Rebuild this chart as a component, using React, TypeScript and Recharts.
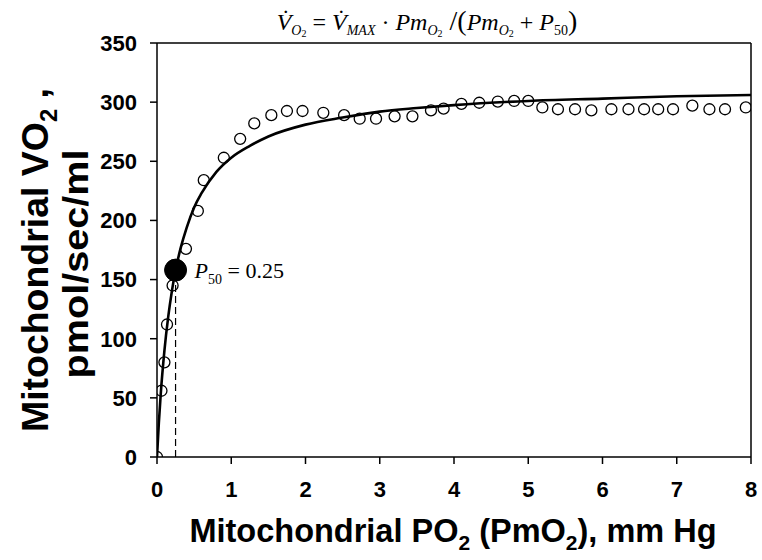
import React from 'react';
import {
  ComposedChart, Line, Scatter, XAxis, YAxis, ReferenceLine, ReferenceDot,
} from 'recharts';

// Observed mitochondrial PO2 (mm Hg) and VO2 (pmol/sec/ml)
const obsPO2 = [0, 0.06, 0.1, 0.135, 0.21, 0.39, 0.55, 0.63, 0.9, 1.12, 1.31, 1.54, 1.75, 1.96, 2.24, 2.52, 2.73, 2.95, 3.2, 3.44, 3.69, 3.86, 4.1, 4.34, 4.59, 4.81, 5.0, 5.19, 5.4, 5.63, 5.85, 6.12, 6.35, 6.56, 6.75, 6.95, 7.21, 7.44, 7.65, 7.93];
const obsVO2 = [0, 56, 80, 112, 145, 176, 208, 234, 253, 269, 282, 289, 292.5, 292.5, 291, 289, 286, 286, 288, 288, 293, 294.5, 298.5, 299.5, 300.5, 301, 301, 295.5, 294, 294, 293, 294, 294, 294, 294, 294, 297, 294, 294, 295.5];

// Fitted curve
const fitPO2 = [0, 0.025, 0.05, 0.1, 0.15, 0.2, 0.25, 0.32, 0.4, 0.5, 0.6, 0.8, 1, 1.25, 1.5, 2, 2.5, 3, 3.5, 4, 5, 6, 7, 8];
const fitVO2 = [0, 29, 53, 90, 118, 140, 158, 177, 194, 211, 223, 241, 253, 263, 271, 281, 287, 292, 295, 297.5, 301, 303, 305, 306];

const p50 = 0.25;
const p50VO2 = 158;

const xTicks = [0, 1, 2, 3, 4, 5, 6, 7, 8];
const yTicks = [0, 50, 100, 150, 200, 250, 300, 350];

const obsData = obsPO2.map((x, i) => ({ x, y: obsVO2[i] }));
const fitData = fitPO2.map((x, i) => ({ x, y: fitVO2[i] }));

const sans = '"Liberation Sans", Arial, sans-serif';
const serif = '"Liberation Serif", "Times New Roman", serif';

const tickStyle = { fill: '#000', fontSize: 22, fontWeight: 'bold' as const, fontFamily: sans };

const OpenCircle = (props: any) => {
  const { cx, cy } = props;
  if (cx == null || cy == null) return null;
  return <circle cx={cx} cy={cy} r={5.5} fill="none" stroke="#000" strokeWidth={1.3} />;
};

const Titles = () => (
  <g>
    {/* formula */}
    <text x={427} y={30} textAnchor="middle" fontFamily={serif} fontSize={24} fill="#000">
      <tspan fontStyle="italic">V̇</tspan>
      <tspan fontStyle="italic" fontSize={14} dy={5}>O</tspan>
      <tspan fontSize={10} dy={2}>2</tspan>
      <tspan dy={-7}> = </tspan>
      <tspan fontStyle="italic">V̇</tspan>
      <tspan fontStyle="italic" fontSize={14} dy={5}>MAX</tspan>
      <tspan dy={-5}> · </tspan>
      <tspan fontStyle="italic">Pm</tspan>
      <tspan fontStyle="italic" fontSize={14} dy={5}>O</tspan>
      <tspan fontSize={10} dy={2}>2</tspan>
      <tspan dy={-7} fontSize={28}> /(</tspan>
      <tspan fontStyle="italic">Pm</tspan>
      <tspan fontStyle="italic" fontSize={14} dy={5}>O</tspan>
      <tspan fontSize={10} dy={2}>2</tspan>
      <tspan dy={-7}> + </tspan>
      <tspan fontStyle="italic">P</tspan>
      <tspan fontSize={14} dy={5}>50</tspan>
      <tspan dy={-5} fontSize={28}>)</tspan>
    </text>
    {/* x axis title */}
    <text x={453} y={542} textAnchor="middle" fontFamily={sans} fontSize={32.5} fontWeight="bold" fill="#000">
      <tspan>Mitochondrial PO</tspan>
      <tspan fontSize={21} dy={8}>2</tspan>
      <tspan dy={-8}> (PmO</tspan>
      <tspan fontSize={21} dy={8}>2</tspan>
      <tspan dy={-8}>), mm Hg</tspan>
    </text>
    {/* y axis title */}
    <text transform="translate(48,260) rotate(-90) scale(1.04,1)" textAnchor="middle" fontFamily={sans} fontSize={36} fontWeight="bold" fill="#000">
      <tspan>Mitochondrial VO</tspan>
      <tspan fontSize={23} dy={9}>2</tspan>
      <tspan dy={-9}> ,</tspan>
    </text>
    <text transform="translate(88,264) rotate(-90) scale(1.1,1)" textAnchor="middle" fontFamily={sans} fontSize={36} fontWeight="bold" fill="#000">
      pmol/sec/ml
    </text>
  </g>
);

const P50Label = (props: any) => {
  const vb = props.viewBox || {};
  const cx = vb.x + (vb.width || 0) / 2;
  const cy = vb.y + (vb.height || 0) / 2;
  return (
    <text x={cx + 19} y={cy + 8} fontFamily={serif} fontSize={22} fill="#000">
      <tspan fontStyle="italic">P</tspan>
      <tspan fontSize={14} dy={6}>50</tspan>
      <tspan dy={-6}> = 0.25</tspan>
    </text>
  );
};

export default function App() {
  return (
    <div style={{ position: 'absolute', left: 0, top: 0 }}>
      <ComposedChart width={762} height={560} margin={{ top: 43, right: 11, left: 0, bottom: 0 }}>
        <XAxis
          type="number"
          dataKey="x"
          domain={[0, 8]}
          ticks={xTicks}
          allowDataOverflow
          height={103}
          tick={tickStyle}
          tickSize={7}
          tickMargin={17}
          stroke="#000"
          strokeWidth={1.5}
          interval={0}
        />
        <YAxis
          type="number"
          dataKey="y"
          domain={[0, 350]}
          ticks={yTicks}
          allowDataOverflow
          width={157}
          tick={tickStyle}
          tickSize={7}
          tickMargin={13}
          stroke="#000"
          strokeWidth={1.5}
          interval={0}
        />
        <ReferenceLine y={350} stroke="#000" strokeWidth={1.5} />
        <ReferenceLine x={8} stroke="#000" strokeWidth={1.5} />
        <ReferenceLine
          segment={[{ x: p50, y: 0 }, { x: p50, y: p50VO2 }]}
          stroke="#000"
          strokeWidth={1.2}
          strokeDasharray="7 4"
        />
        <Line
          data={fitData}
          dataKey="y"
          type="monotone"
          stroke="#000"
          strokeWidth={2.6}
          dot={false}
          activeDot={false}
          isAnimationActive={false}
        />
        <Scatter data={obsData} dataKey="y" shape={<OpenCircle />} isAnimationActive={false} />
        <ReferenceDot x={p50} y={p50VO2} r={11} fill="#000" stroke="#000" label={<P50Label />} />
        <Titles />
      </ComposedChart>
    </div>
  );
}
